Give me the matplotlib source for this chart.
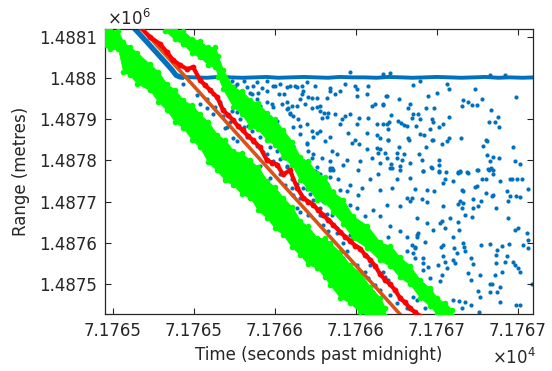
"""Range vs time: blue detections, green gates, red track, orange linear fit.

Values are stored as offsets from T0 (s past midnight) and R0 (metres).
"""
import numpy as np
import matplotlib
matplotlib.use("Agg")
import matplotlib.pyplot as plt

T0 = 71764.0
R0 = 1487000.0

# blue detections: target descent then the flat clutter line
DESC_T = [0.626, 0.699, 0.761, 0.823, 0.866, 0.891, 0.915, 0.940]
DESC_R = [1124, 1093, 1066, 1039, 1020, 1007, 1003, 1002]
FLAT_T = [0.93, 1.00, 1.08, 1.15, 1.22, 1.30, 1.38, 1.45, 1.52, 1.60, 1.68, 1.75,
          1.83, 1.90, 1.98, 2.05, 2.13, 2.20, 2.28, 2.35, 2.43, 2.50, 2.58, 2.65,
          2.73, 2.80, 2.88, 2.95, 3.03, 3.10]
FLAT_R = [1003, 1002, 1001, 1003, 1002, 1001, 1002, 1003, 1001, 1002, 1003, 1002,
          1001, 1003, 1002, 1002, 1001, 1003, 1002, 1001, 1002, 1003, 1002, 1001,
          1002, 1003, 1001, 1002, 1001, 1002]
FLAT_BUMPS = [(1.965, 1014), (2.171, 1011), (2.212, 1012), (2.829, 1008), (2.922, 1008)]

# blue scattered detections (t, r)
SCATTER = [
    # between the orange fit and the upper gate
    (0.936, 986), (1.018, 958), (1.039, 937), (1.080, 950), (1.121, 962), (1.132, 929),
    (1.162, 937), (1.183, 909), (1.204, 881), (1.224, 893), (1.235, 921), (1.265, 917),
    (1.286, 901), (1.307, 881), (1.327, 856), (1.337, 885), (1.358, 872), (1.368, 844),
    (1.389, 836), (1.409, 856), (1.430, 820), (1.451, 816), (1.471, 832), (1.492, 799),
    (1.512, 824), (1.533, 803), (1.574, 783), (1.605, 755), (1.636, 742), (1.656, 775),
    (1.677, 755), (1.698, 730), (1.718, 718), (1.739, 742), (1.759, 710), (1.780, 685),
    (1.800, 702), (1.821, 669), (1.842, 653), (1.862, 677), (1.883, 637),
    (1.307, 994), (1.327, 978), (1.358, 962), (1.389, 950), (1.409, 933), (1.451, 942),
    (1.492, 929), (1.471, 905), (1.512, 897), (1.543, 937), (1.574, 925), (1.595, 913),
    (1.605, 933), (1.615, 881), (1.656, 864), (1.698, 840), (1.739, 816), (1.759, 783),
    (1.780, 767), (1.821, 742), (1.842, 759), (1.862, 726), (1.872, 702),
    (1.492, 982), (1.533, 986), (1.574, 978), (1.636, 978), (1.677, 970), (1.708, 954),
    (1.656, 950), (1.759, 929), (1.780, 921), (1.821, 905), (1.842, 856), (1.739, 856),
    (1.698, 889), (1.842, 970), (1.872, 962), (1.698, 990), (1.389, 990), (1.451, 994),
    (1.255, 982),
    (1.080, 928), (1.121, 912), (1.162, 941), (1.183, 924), (1.193, 880), (1.245, 855),
    (1.265, 847), (1.327, 945), (1.286, 961), (1.265, 985), (1.204, 973), (1.235, 993),
    (1.471, 758), (1.533, 766), (1.564, 741), (1.605, 733), (1.615, 717), (1.656, 709),
    (1.677, 733), (1.697, 741), (1.636, 685), (1.656, 676), (1.697, 701), (1.708, 668),
    (1.409, 786), (1.574, 786),
    # upper middle
    (1.368, 981), (1.420, 977), (1.502, 981), (1.595, 981), (1.626, 981), (1.667, 981),
    (1.749, 981), (1.842, 977), (1.934, 985), (1.996, 981), (2.078, 981), (2.006, 973),
    (1.348, 965), (1.399, 965), (1.451, 969), (1.523, 961), (1.554, 961), (1.667, 961),
    (1.728, 953), (1.759, 953), (1.821, 953), (1.903, 969), (2.006, 957), (2.068, 961),
    (2.192, 957), (1.482, 937), (1.574, 941), (1.584, 928), (1.595, 916), (1.615, 908),
    (1.636, 932), (1.687, 937), (1.728, 928), (1.780, 932), (1.801, 916), (1.831, 916),
    (1.790, 904), (1.872, 912), (1.965, 912), (1.934, 908), (1.913, 900), (2.017, 904),
    (2.078, 904), (2.099, 932), (2.119, 937), (2.130, 888), (2.171, 937), (2.192, 888),
    (1.440, 896), (1.461, 888), (1.533, 859), (1.656, 884), (1.646, 900), (1.728, 872),
    (1.759, 867), (1.780, 872), (1.811, 847), (1.903, 888), (1.955, 867), (1.996, 851),
    (2.017, 839), (1.975, 843), (2.006, 888), (2.068, 867), (2.130, 863), (2.150, 855),
    (2.202, 851), (1.698, 843), (1.708, 823), (1.728, 806), (1.790, 806), (1.852, 823),
    (1.883, 815), (1.924, 790), (1.945, 802), (2.027, 798), (2.068, 827), (2.099, 806),
    (2.140, 819), (2.130, 831), (2.150, 794), (2.192, 806), (1.852, 782), (1.749, 774),
    (1.842, 778), (1.554, 863), (1.584, 851), (1.615, 835), (1.533, 827), (1.564, 806),
    (1.842, 798),
    # upper right
    (2.356, 983), (2.397, 994), (2.562, 987), (2.578, 973), (2.500, 963), (2.448, 957),
    (2.187, 957), (2.269, 949), (2.166, 934), (2.335, 937), (2.325, 928), (2.485, 928),
    (2.434, 927), (2.660, 946), (2.695, 942), (2.716, 934), (2.751, 935), (2.656, 932),
    (2.737, 973), (2.778, 949), (2.990, 954), (2.356, 914), (2.387, 914), (2.397, 902),
    (2.346, 904), (2.216, 910), (2.204, 893), (2.171, 889), (2.263, 896), (2.278, 892),
    (2.298, 886), (2.315, 885), (2.370, 884), (2.469, 900), (2.479, 894), (2.541, 888),
    (2.516, 881), (2.576, 906), (2.459, 876), (2.202, 876), (2.397, 865), (2.424, 862),
    (2.325, 854), (2.327, 849), (2.202, 851), (2.469, 849), (2.479, 849), (2.535, 841),
    (2.562, 847), (2.578, 855), (2.650, 855), (2.434, 833), (2.267, 833), (2.150, 828),
    (2.181, 819), (2.253, 819), (2.298, 815), (2.393, 816), (2.407, 801), (2.516, 802),
    (2.284, 800), (2.253, 806), (2.216, 792), (2.222, 782), (2.273, 786), (2.335, 794),
    (2.273, 776), (2.418, 774), (2.465, 784), (2.514, 790), (2.514, 774), (2.557, 771),
    (2.630, 771), (2.644, 774), (2.689, 771), (2.751, 778), (2.784, 835), (2.804, 849),
    (2.813, 847), (2.835, 922), (2.823, 894), (2.860, 894), (2.876, 906), (2.887, 881),
    (2.813, 813), (2.829, 798), (2.850, 808), (2.887, 805), (2.819, 779), (2.846, 778),
    (2.973, 833), (2.984, 798), (3.014, 792),
    # lower right
    (2.417, 774), (2.469, 782), (2.516, 772), (2.551, 754), (2.541, 745), (2.603, 750),
    (2.633, 770), (2.644, 772), (2.695, 770), (2.757, 778), (2.823, 778), (2.835, 782),
    (2.777, 756), (2.804, 754), (2.850, 766), (2.891, 750), (2.952, 756), (2.962, 754),
    (2.994, 756), (3.024, 754), (3.066, 731), (2.366, 731), (2.438, 729), (2.483, 727),
    (2.654, 729), (2.664, 725), (2.736, 735), (2.747, 737), (2.804, 721), (2.839, 713),
    (2.850, 717), (2.932, 725), (2.952, 713), (2.989, 713), (3.014, 712), (2.942, 701),
    (2.345, 709), (2.407, 707), (2.438, 699), (2.541, 689), (2.633, 694), (2.644, 701),
    (2.664, 697), (2.654, 685), (2.722, 706), (2.726, 685), (2.757, 689), (2.771, 701),
    (2.866, 685), (2.674, 668), (2.716, 662), (2.582, 660), (2.520, 648), (2.530, 652),
    (2.376, 660), (2.438, 648), (2.479, 632), (2.551, 636), (2.633, 650), (2.640, 632),
    (2.942, 660), (3.004, 636), (2.983, 632), (3.059, 623), (3.066, 607), (2.386, 623),
    (2.380, 615), (2.428, 603), (2.603, 613), (2.664, 599), (2.670, 591), (2.675, 580),
    (2.609, 587), (2.623, 575), (2.541, 595), (2.524, 591), (2.345, 595), (2.366, 587),
    (2.356, 575), (2.417, 563), (2.417, 550), (2.448, 542), (2.510, 546), (2.541, 569),
    (2.551, 554), (2.603, 559), (2.613, 550), (2.561, 538), (2.712, 563), (2.726, 548),
    (2.773, 595), (2.829, 596), (2.874, 583), (2.864, 571), (2.905, 593), (2.946, 596),
    (3.035, 595), (3.066, 587), (2.932, 567), (2.921, 554), (2.973, 554), (2.983, 546),
    (3.004, 538), (3.014, 530), (2.901, 530), (2.866, 550), (2.860, 522), (2.829, 499),
    (2.839, 501), (2.891, 493), (2.874, 481), (2.829, 481), (2.695, 526), (2.712, 510),
    (2.767, 522), (2.757, 483), (2.530, 522), (2.520, 506), (2.458, 514), (2.417, 534),
    (2.407, 501), (2.458, 485), (2.376, 461), (2.428, 441), (2.603, 461), (2.640, 458),
    (2.674, 457), (2.712, 450), (2.592, 437), (2.654, 441), (2.763, 432), (2.767, 469),
    (2.891, 457), (2.989, 449), (3.014, 449), (3.086, 499),
    # middle, around the upper gate
    (1.841, 782), (1.862, 778), (2.016, 778), (2.088, 754), (2.140, 766), (2.212, 782),
    (2.253, 754), (2.335, 758), (1.893, 754), (1.903, 729), (1.944, 725), (1.965, 741),
    (2.037, 733), (2.016, 717), (2.150, 729), (2.222, 733), (2.315, 709), (2.335, 701),
    (2.273, 689), (1.769, 741), (1.738, 705), (1.810, 701),
    (1.852, 668), (1.893, 668), (1.965, 693), (2.006, 685), (2.057, 664), (2.109, 680),
    (2.150, 664), (2.191, 693), (2.212, 640), (2.201, 615), (2.273, 628), (2.315, 615),
    (2.377, 619), (2.129, 603), (2.366, 591), (2.366, 563), (2.315, 579), (1.862, 583),
    (1.944, 579), (1.923, 563), (2.068, 567), (2.088, 546), (2.170, 530), (2.181, 518),
    (2.201, 510), (2.078, 514), (2.119, 497), (2.150, 485), (2.212, 473), (2.273, 469),
    (2.253, 453), (2.315, 441), (2.356, 469), (1.779, 668), (1.800, 644), (1.831, 628),
    (1.882, 623), (1.965, 619), (1.923, 599), (2.016, 591), (2.006, 546), (2.057, 530),
    (2.037, 510), (2.109, 481),
]

# green gates: time, upper edge, lower edge (ragged)
GATE_A_T = [0.440, 0.483, 0.533, 0.564, 0.607, 0.650, 0.730, 0.780, 0.835, 0.884,
            0.934, 0.990, 1.039, 1.088, 1.144, 1.193, 1.243, 1.298, 1.348, 1.397,
            1.452, 1.502, 1.551, 1.607, 1.656, 1.705, 1.761, 1.810, 1.841, 1.903,
            1.965, 2.027, 2.088, 2.150, 2.181]
GATE_A_HI = [1124, 1118, 1115, 1088, 1076, 1062, 1034, 1016, 985, 972,
             946, 935, 912, 894, 863, 850, 824, 818, 800, 784,
             751, 735, 710, 687, 654, 640, 612, 611, 600, 577,
             546, 528, 493, 467, 441]
GATE_A_LO = [1080, 1070, 1071, 1016, 1007, 987, 971, 943, 922, 894,
             880, 850, 832, 796, 776, 752, 741, 718, 710, 679,
             661, 635, 620, 589, 571, 548, 539, 516, 498, 467,
             454, 431, 422, 422, 422]
GATE_B_T = [0.823, 0.884, 0.934, 0.990, 1.039, 1.088, 1.132, 1.150, 1.181, 1.243,
            1.298, 1.348, 1.397, 1.452, 1.502, 1.551, 1.607, 1.656, 1.705, 1.761,
            1.810, 1.860, 1.922, 1.983, 2.070, 2.150, 2.212, 2.273, 2.335, 2.397,
            2.459, 2.502, 2.551, 2.594]
GATE_B_HI = [1127, 1118, 1115, 1096, 1090, 1075, 1076, 1053, 1020, 979,
             968, 948, 939, 916, 900, 875, 846, 809, 798, 770,
             759, 723, 705, 665, 642, 601, 593, 565, 544, 509,
             490, 465, 454, 437]
GATE_B_LO = [1115, 1094, 1083, 1060, 1051, 1033, 1027, 1004, 973, 931,
             912, 882, 876, 850, 837, 809, 788, 753, 734, 704,
             698, 675, 646, 611, 588, 557, 544, 516, 500, 467,
             446, 426, 424, 422]

# red track
RED_T = [0.669, 0.730, 0.792, 0.835, 0.872, 0.915, 0.959, 0.996, 1.039, 1.070,
         1.101, 1.144, 1.181, 1.212, 1.243, 1.274, 1.304, 1.335, 1.366, 1.409,
         1.452, 1.483, 1.514, 1.551, 1.594, 1.638, 1.675, 1.706, 1.736, 1.767,
         1.798, 1.829, 1.860, 1.903, 1.934, 1.965, 1.996, 2.027, 2.057, 2.088,
         2.119, 2.150, 2.181, 2.212, 2.243, 2.273, 2.304, 2.335, 2.366, 2.397]
RED_R = [1124, 1100, 1083, 1063, 1044, 1032, 1022, 1027, 995, 983,
         971, 954, 922, 910, 898, 883, 873, 859, 849, 832,
         800, 795, 790, 766, 776, 734, 710, 700, 693, 680,
         668, 656, 644, 627, 615, 605, 593, 586, 571, 559,
         544, 524, 510, 499, 485, 466, 455, 441, 431, 422]

# orange linear fit
FIT_T = [0.60, 2.35]
FIT_R = [1155, 393]

XTICKS = [0.5, 1.0, 1.5, 2.0, 2.5, 3.0]
XTICK_LABELS = ["7.1765", "7.1765", "7.1766", "7.1766", "7.1767", "7.1767"]
YTICKS = [500, 600, 700, 800, 900, 1000, 1100]
YTICK_LABELS = ["1.4875", "1.4876", "1.4877", "1.4878", "1.4879", "1.488", "1.4881"]

BLUE = "#0072BD"
ORANGE = "#D95319"
RED = "#FF0000"
GREEN = "#00FF00"
INK = "#262626"


def main():
    fig = plt.figure(figsize=(5.52, 3.71), dpi=100)
    ax = fig.add_axes([105 / 552, 57 / 371, 428 / 552, 285 / 371])

    st = np.array([p[0] for p in SCATTER]) + T0
    sr = np.array([p[1] for p in SCATTER]) + R0
    ax.plot(st, sr, "o", color=BLUE, ms=3.0, mew=0, zorder=1)

    ax.plot(np.array(DESC_T) + T0, np.array(DESC_R) + R0, "-", color=BLUE,
            lw=3.8, solid_capstyle="butt", zorder=2)
    ax.plot(np.array(FLAT_T) + T0, np.array(FLAT_R) + R0, "-", color=BLUE,
            lw=2.8, zorder=2)
    ax.plot([p[0] + T0 for p in FLAT_BUMPS], [p[1] + R0 for p in FLAT_BUMPS], "o",
            color=BLUE, ms=3.0, mew=0, zorder=2)

    # gates: filled band, with beaded edges for the dotty look
    for t, hi, lo in [(GATE_A_T, GATE_A_HI, GATE_A_LO), (GATE_B_T, GATE_B_HI, GATE_B_LO)]:
        t = np.array(t) + T0
        hi = np.array(hi) + R0
        lo = np.array(lo) + R0
        ax.fill_between(t, lo, hi, color=GREEN, lw=0.6, edgecolor=GREEN, zorder=3)
        ax.plot(t, hi, "o", color=GREEN, ms=4.0, mew=0, zorder=3)
        ax.plot(t, lo, "o", color=GREEN, ms=4.0, mew=0, zorder=3)

    ax.plot(np.array(FIT_T) + T0, np.array(FIT_R) + R0, "-", color=ORANGE, lw=2.6, zorder=4)
    ax.plot(np.array(RED_T) + T0, np.array(RED_R) + R0, "-", color=RED, lw=3.0,
            marker="o", ms=4.2, mew=0, zorder=5)

    ax.set_xlim(T0 + 0.452, T0 + 3.094)
    ax.set_ylim(R0 + 427, R0 + 1119.5)
    ax.set_xticks(np.array(XTICKS) + T0, XTICK_LABELS)
    ax.set_yticks(np.array(YTICKS) + R0, YTICK_LABELS)
    ax.tick_params(direction="in", length=4, width=0.8, top=True, right=True,
                   labelsize=12, colors=INK, pad=6)
    for s in ax.spines.values():
        s.set_color(INK)
        s.set_linewidth(0.9)

    ax.set_xlabel("Time (seconds past midnight)", fontsize=12, color=INK, labelpad=4)
    ax.set_ylabel("Range (metres)", fontsize=12, color=INK, labelpad=6)
    fig.text(107 / 552, (371 - 25) / 371, r"$\times10^{6}$", fontsize=12, color=INK,
             va="baseline", ha="left")
    fig.text(492 / 552, (371 - 364) / 371, r"$\times10^{4}$", fontsize=12, color=INK,
             va="baseline", ha="left")

    fig.savefig("out.png", dpi=100)


if __name__ == "__main__":
    main()
